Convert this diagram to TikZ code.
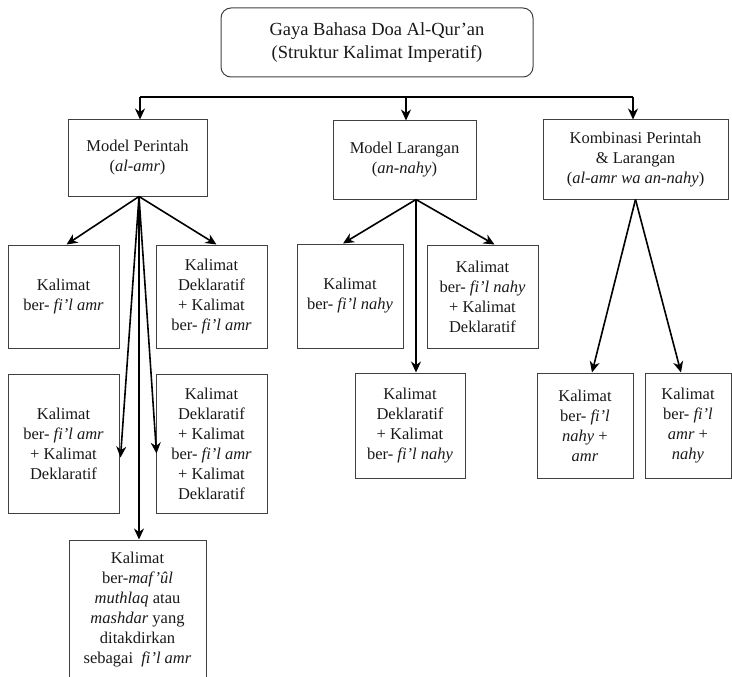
\documentclass[tikz,border=0pt]{standalone}
\usepackage{fontspec}
\setmainfont{Liberation Serif}
\usetikzlibrary{arrows.meta}
\begin{document}
\begin{tikzpicture}[x=1pt,y=-1pt,
  box/.style={draw=black!75, line width=1pt, align=center, inner sep=0pt,
    font=\fontsize{16.5}{20}\selectfont, text=black!90},
  arr/.style={line width=1.6pt, -{Stealth[length=11pt,width=10pt,inset=3.5pt]}},
  bus/.style={line width=1.4pt}]
\useasboundingbox (0,0) rectangle (732,677);

% top
\node[box, rounded corners=10pt, minimum width=312pt, minimum height=69pt,
  font=\fontsize{18.5}{23}\selectfont] (top) at (377,42.5)
  {Gaya Bahasa Doa Al-Qur’an\\(Struktur Kalimat Imperatif)};

% level 1
\node[box, minimum width=139pt, minimum height=76pt] (mp) at (137.5,158)
  {Model Perintah\\(\textit{al-amr})};
\node[box, minimum width=143pt, minimum height=78pt] (ml) at (404.5,160)
  {Model Larangan\\(\textit{an-nahy})};
\node[box, minimum width=185pt, minimum height=79pt] (km) at (635.5,159.5)
  {Kombinasi Perintah\\\& Larangan\\(\textit{al-amr wa an-nahy})};

% bus
\coordinate (b1) at (140,97);
\coordinate (b2) at (406,97);
\coordinate (b3) at (633,97);
\draw[bus] (b1) -- (b3);
\draw[arr] (b1) -- (b1 |- mp.north);
\draw[arr] (b2) -- (b2 |- ml.north);
\draw[arr] (b3) -- (b3 |- km.north);

% perintah children
\node[box, minimum width=111pt, minimum height=103pt] (pa) at (63.5,296.5)
  {Kalimat\\ber- \textit{fi’l amr}};
\node[box, minimum width=111pt, minimum height=103pt] (pb) at (211.5,296.5)
  {Kalimat\\Deklaratif\\+ Kalimat\\ber- \textit{fi’l amr}};
\node[box, minimum width=111pt, minimum height=139pt] (pc) at (63.5,443.5)
  {Kalimat\\ber- \textit{fi’l amr}\\+ Kalimat\\Deklaratif};
\node[box, minimum width=111pt, minimum height=139pt] (pd) at (211.5,443.5)
  {Kalimat\\Deklaratif\\+ Kalimat\\ber- \textit{fi’l amr}\\+ Kalimat\\Deklaratif};
\node[box, minimum width=137pt, minimum height=140pt] (pe) at (137.5,610)
  {Kalimat\\ber-\textit{maf’ûl}\\\textit{muthlaq} atau\\\textit{mashdar} yang\\ditakdirkan\\sebagai \ \textit{fi’l amr}};

\coordinate (mpo) at ([xshift=1.5pt]mp.south);
\draw[arr] (mpo) -- ([xshift=3pt]pa.north);
\draw[arr] (mpo) -- ([xshift=5pt]pb.north);
\draw[arr] (mpo) -- ([xshift=1pt,yshift=-14pt]pc.east);
\draw[arr] (mpo) -- ([xshift=1pt,yshift=-10pt]pd.west);
\draw[arr] (mpo) -- (mpo |- pe.north);

% larangan children
\node[box, minimum width=106pt, minimum height=104pt] (la) at (350,296)
  {Kalimat\\ber- \textit{fi’l nahy}};
\node[box, minimum width=111pt, minimum height=103pt] (lb) at (482.5,296.5)
  {Kalimat\\ber- \textit{fi’l nahy}\\+ Kalimat\\Deklaratif};
\node[box, minimum width=110pt, minimum height=105pt] (lc) at (410,425.5)
  {Kalimat\\Deklaratif\\+ Kalimat\\ber- \textit{fi’l nahy}};

\coordinate (mlo) at ([xshift=11.5pt]ml.south);
\draw[arr] (mlo) -- ([xshift=-7pt]la.north);
\draw[arr] (mlo) -- ([xshift=12pt]lb.north);
\draw[arr] (mlo) -- (mlo |- lc.north);

% kombinasi children
\node[box, minimum width=96pt, minimum height=105pt] (ka) at (585,425.5)
  {Kalimat\\ber- \textit{fi’l}\\\textit{nahy} +\\\textit{amr}};
\node[box, minimum width=86pt, minimum height=105pt] (kb) at (688,425.5)
  {Kalimat\\ber- \textit{fi’l}\\\textit{amr} +\\\textit{nahy}};

\coordinate (kmo) at (km.south);
\draw[arr] (kmo) -- ([xshift=7pt]ka.north);
\draw[arr] (kmo) -- ([xshift=-7pt]kb.north);
\end{tikzpicture}
\end{document}
